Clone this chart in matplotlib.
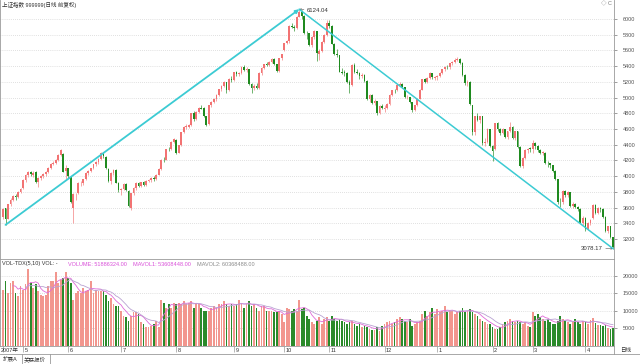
import matplotlib
matplotlib.use("Agg")
import matplotlib.pyplot as plt
import matplotlib.transforms as mtrans
import numpy as np
import pandas as pd

plt.rcParams['font.family'] = ['Liberation Sans', 'Noto Sans CJK SC', 'DejaVu Sans']

# 上证指数 日线 2007-04 ~ 2008-04
opens = [
    3480, 3590, 3460, 3640, 3700, 3750, 3730, 3800,
    3850, 3950, 4010, 4050, 4020, 4050, 3930, 3980, 4000, 4030, 4050, 4110, 4160, 4170, 4200, 4270, 4280, 4060,
    4100, 3990, 3600, 3770, 3780, 3910, 3910, 3960, 4040, 4070, 4100, 4150, 4180, 4220, 4290, 4250, 4090, 3940, 4040, 4080, 3910,
    3820, 3840, 3900, 3810, 3600, 3780, 3850, 3910, 3880, 3920, 3890, 3940, 3950, 3980, 3960, 4020, 4090, 4210, 4210, 4345, 4340, 4440,
    4460, 4300, 4400, 4560, 4628, 4630, 4650, 4800, 4730, 4820, 4870, 4870, 4760, 4660, 4900, 4950, 4980, 5032, 5107, 5150, 5194, 5095, 5241,
    5220, 5321, 5294, 5310, 5393, 5355, 5360, 5170, 5120, 5150, 5121, 5309, 5378, 5425, 5421, 5454, 5497, 5425, 5340, 5500,
    5600, 5692, 5715, 5913, 5900, 5880, 6030, 6092, 6036, 5825, 5818, 5667, 5773, 5843, 5560, 5589, 5706, 5802,
    5954, 5914, 5688, 5558, 5538, 5330, 5319, 5316, 5195, 5158, 5412, 5330, 5317, 5269, 5292, 5214, 4984, 5032, 4935, 4958, 4803, 4897,
    4850, 4869, 4915, 5035, 5092, 5091, 5163, 5174, 5139, 5005, 5007, 4941, 4836, 4900, 4985, 5101, 5234, 5202, 5252, 5308, 5250,
    5262, 5272, 5319, 5361, 5393, 5386, 5435, 5456, 5484, 5497, 5443, 5290, 5180, 5203, 4900, 4560, 4761, 4717, 4761, 4419, 4433, 4599,
    4380, 4340, 4672, 4599, 4552, 4599, 4497, 4574, 4631, 4482, 4570, 4370, 4123, 4235, 4330, 4350,
    4348, 4420, 4390, 4331, 4300, 4300, 4168, 4165, 4139, 4072, 3962, 3670, 3668, 3807, 3754, 3796, 3623, 3646, 3608, 3580, 3410,
    3472, 3329, 3407, 3470, 3628, 3531, 3600, 3580, 3486, 3296, 3360, 3222,
]
highs = [
    3600, 3600, 3650, 3720, 3760, 3770, 3810, 3850,
    3960, 4030, 4060, 4070, 4060, 4060, 3990, 4020, 4040, 4060, 4120, 4170, 4190, 4220, 4280, 4340, 4290, 4140,
    4110, 4000, 3780, 3790, 3920, 3940, 3970, 4050, 4080, 4110, 4160, 4190, 4230, 4312, 4300, 4260, 4100, 4050, 4090, 4090, 3930,
    3850, 3910, 3910, 3820, 3790, 3860, 3920, 3930, 3930, 3940, 3950, 3970, 3990, 4000, 4030, 4100, 4215, 4240, 4350, 4370, 4445, 4480,
    4470, 4400, 4565, 4640, 4660, 4670, 4810, 4830, 4830, 4880, 4900, 4880, 4770, 4910, 4960, 4990, 5040, 5110, 5160, 5210, 5200, 5250, 5280,
    5330, 5340, 5320, 5400, 5410, 5390, 5370, 5180, 5170, 5180, 5320, 5390, 5430, 5450, 5460, 5500, 5500, 5430, 5510, 5560,
    5700, 5730, 5920, 5950, 5930, 6040, 6124.04, 6110, 6050, 5850, 5820, 5790, 5860, 5850, 5620, 5720, 5810, 5990,
    5990, 5920, 5700, 5620, 5540, 5380, 5350, 5320, 5220, 5430, 5440, 5370, 5330, 5310, 5300, 5220, 5050, 5040, 4980, 4960, 4910, 4920,
    4900, 4930, 5040, 5100, 5110, 5170, 5200, 5180, 5140, 5030, 5010, 4950, 4910, 4990, 5110, 5240, 5250, 5260, 5320, 5310, 5275,
    5290, 5330, 5370, 5400, 5410, 5440, 5470, 5500, 5522, 5500, 5450, 5300, 5220, 5210, 4910, 4770, 4800, 4770, 4770, 4480, 4610, 4600,
    4400, 4680, 4690, 4610, 4610, 4600, 4580, 4695, 4640, 4580, 4575, 4380, 4240, 4340, 4360, 4370,
    4460, 4430, 4400, 4340, 4320, 4310, 4190, 4170, 4140, 4080, 3970, 3720, 3820, 3830, 3810, 3800, 3670, 3660, 3620, 3590, 3490,
    3480, 3420, 3460, 3640, 3640, 3610, 3610, 3590, 3490, 3370, 3370, 3230,
]
lows = [
    3460, 3380, 3450, 3620, 3680, 3700, 3720, 3780,
    3840, 3930, 3990, 4000, 3990, 3910, 3860, 3950, 3980, 4000, 4040, 4090, 4140, 4150, 4190, 4260, 4050, 3970,
    3980, 3660, 3404, 3700, 3770, 3880, 3890, 3950, 4020, 4050, 4090, 4130, 4160, 4200, 4230, 4090, 3930, 3900, 4010, 3910, 3800,
    3760, 3820, 3810, 3610, 3563, 3760, 3830, 3860, 3860, 3870, 3880, 3920, 3930, 3940, 3950, 4010, 4080, 4180, 4200, 4320, 4330, 4420,
    4280, 4290, 4390, 4550, 4600, 4610, 4640, 4700, 4720, 4800, 4850, 4750, 4640, 4650, 4880, 4930, 4960, 5020, 5090, 5130, 5060, 5090, 5200,
    5210, 5270, 5270, 5300, 5340, 5320, 5160, 5060, 5100, 5110, 5110, 5290, 5360, 5400, 5400, 5440, 5410, 5330, 5330, 5480,
    5590, 5680, 5700, 5880, 5850, 5870, 6020, 6000, 5810, 5740, 5660, 5640, 5750, 5460, 5480, 5580, 5700, 5790,
    5880, 5680, 5540, 5520, 5320, 5300, 5280, 5180, 5060, 5150, 5310, 5300, 5240, 5250, 5200, 4970, 4950, 4920, 4900, 4778, 4790, 4850,
    4820, 4860, 4900, 5020, 5060, 5080, 5150, 5120, 4990, 4980, 4930, 4820, 4830, 4890, 4980, 5100, 5180, 5190, 5240, 5240, 5220,
    5230, 5260, 5300, 5340, 5360, 5370, 5420, 5440, 5470, 5430, 5280, 5160, 5150, 4900, 4520, 4530, 4700, 4680, 4400, 4380, 4420, 4370,
    4195, 4330, 4580, 4520, 4540, 4480, 4470, 4560, 4470, 4460, 4360, 4120, 4110, 4220, 4300, 4310,
    4300, 4340, 4310, 4280, 4270, 4150, 4120, 4100, 4050, 3950, 3650, 3610, 3650, 3740, 3730, 3610, 3600, 3590, 3560, 3400, 3380,
    3300, 3310, 3380, 3460, 3520, 3520, 3550, 3470, 3290, 3280, 3210, 3078.17,
]
closes = [
    3580, 3450, 3640, 3700, 3750, 3730, 3800, 3840,
    3950, 4010, 4050, 4030, 4040, 3930, 3980, 4000, 4030, 4050, 4110, 4160, 4170, 4200, 4270, 4335, 4055, 4110,
    4000, 3670, 3767, 3776, 3913, 3914, 3960, 4040, 4070, 4100, 4150, 4180, 4220, 4290, 4260, 4100, 3940, 4040, 4080, 3915, 3820,
    3840, 3900, 3820, 3615, 3780, 3853, 3910, 3880, 3920, 3890, 3940, 3950, 3980, 3960, 4020, 4090, 4210, 4205, 4345, 4340, 4440, 4470,
    4300, 4395, 4560, 4628, 4630, 4650, 4800, 4730, 4820, 4870, 4860, 4765, 4656, 4904, 4950, 4980, 5032, 5107, 5150, 5194, 5095, 5241, 5218,
    5321, 5294, 5310, 5393, 5355, 5356, 5171, 5120, 5153, 5121, 5309, 5378, 5425, 5421, 5454, 5497, 5425, 5340, 5500, 5552,
    5692, 5715, 5913, 5900, 5880, 6030, 6092, 6036, 5825, 5818, 5667, 5773, 5843, 5562, 5589, 5706, 5802, 5954,
    5914, 5688, 5558, 5538, 5330, 5319, 5316, 5195, 5158, 5412, 5330, 5317, 5269, 5292, 5214, 4984, 5032, 4935, 4958, 4803, 4897, 4871,
    4869, 4915, 5035, 5092, 5091, 5163, 5174, 5139, 5005, 5007, 4941, 4836, 4900, 4985, 5101, 5234, 5202, 5252, 5308, 5261, 5262,
    5272, 5319, 5361, 5393, 5386, 5435, 5456, 5484, 5497, 5443, 5290, 5180, 5203, 4914, 4559, 4761, 4717, 4761, 4419, 4433, 4599, 4383,
    4320, 4672, 4599, 4552, 4599, 4497, 4574, 4631, 4482, 4570, 4370, 4123, 4235, 4330, 4350, 4348,
    4420, 4390, 4331, 4300, 4310, 4168, 4165, 4139, 4072, 3962, 3670, 3668, 3807, 3754, 3796, 3623, 3646, 3608, 3580, 3410, 3472,
    3329, 3407, 3446, 3628, 3531, 3600, 3580, 3486, 3296, 3360, 3222, 3094,
]
# 成交量（万手）
volumes = [
    16000, 18400, 15100, 17900, 18400, 15100, 14200, 17000, 16000, 17500,
    21900, 17900, 16500, 17500, 15600, 14600, 14200, 14600, 17000, 18400,
    18400, 20900, 17900, 18900, 19300, 20900, 19300, 17900, 13200, 15100,
    15600, 15100, 16500, 15600, 16000, 18400, 15100, 16000, 15600, 15600,
    15600, 14600, 12800, 13700, 11800, 11400, 11400, 10000, 8500, 8100,
    7100, 8500, 9500, 9500, 9000, 6700, 6200, 5300, 5300, 5700,
    6200, 7100, 5300, 13200, 12300, 10900, 11800, 10900, 12300, 11800,
    12300, 11800, 12800, 11800, 12300, 12800, 10900, 12300, 11800, 10900,
    10000, 10000, 10000, 10900, 11400, 10900, 11800, 11800, 12800, 11800,
    11400, 11800, 11400, 11800, 13200, 12300, 10900, 11800, 12800, 11400,
    11800, 10900, 10000, 11400, 11400, 10000, 10000, 10000, 9500, 9500,
    10000, 9000, 6700, 10900, 10400, 10000, 10400, 10000, 13000, 10400,
    10900, 8500, 7600, 6700, 6200, 7100, 8100, 6200,
    7600, 8100, 7100, 8500, 7600, 7100, 7600,
    7100, 6700, 6200, 6700, 7100, 6200, 5700, 6200, 5300, 5700, 5300, 4800, 4500, 4500, 5300, 4300,
    5700, 6200, 6700, 7100, 6200, 6700, 7600, 8100, 7600, 7100, 6700, 7600, 5700, 6200, 6700, 7100,
    9000, 9900, 8500, 9500, 10900, 9000, 10400, 9500, 10000, 11400, 9500, 10000, 9900, 9000, 9500, 10000, 10900, 9500, 10000, 10400,
    9500, 9000, 8500, 7600, 7100, 6700, 6200, 6200, 5300, 4800, 4800, 5300,
    6200, 6700, 7100, 7600, 7100, 6700, 7100, 6700, 6200, 6700, 5700, 5300,
    9500, 8500, 9000, 8100, 7600, 7100, 7600, 6700, 6200, 6200,
    7100, 8500, 7600, 7100, 6700, 6200, 7100, 7600, 6700, 6200, 7100, 6700, 6200,
    7400, 7900, 6400, 6000, 5900, 5600, 5900, 5200, 4900, 5189,
]

month_starts = [0, 8, 26, 47, 69, 92, 112, 130, 152, 173, 195, 211, 232]
month_labels = ['2007年', '5', '6', '7', '8', '9', '10', '11', '12', '1', '2', '3', '4']
price_ticks = list(range(3200, 6001, 200))
vol_ticks = [5000, 10000, 15000, 20000]

UP, DOWN = '#f27373', '#1f8a1f'
UP_V, DOWN_V = '#f2968e', '#2a8a2a'
CYAN = '#3ccbd3'
GRID = '#c4c4c4'
EDGE = '#9a9a9a'
W, H = 640, 364
FS = 4.0


def fx(x):
    return x / W


def fy(y):
    return 1 - y / H


o = np.array(opens, float)
c = np.array(closes, float)
hi = np.maximum(np.array(highs, float), np.maximum(o, c))
lo = np.minimum(np.array(lows, float), np.minimum(o, c))
v = np.array(volumes, float)
n = len(c)
idx = np.arange(n)
up = c >= o
cols = np.where(up, UP, DOWN)

fig = plt.figure(figsize=(6.4, 3.64), dpi=100)
fig.patch.set_facecolor('white')

plot_w = 614 / W
ax = fig.add_axes([0, fy(258.5), plot_w, 258.5 / H])
axv = fig.add_axes([0, fy(345.8), plot_w, (345.8 - 258.5) / H])

for a in (ax, axv):
    a.set_xlim(-1.2, n - 1 + 0.4)
    for s in a.spines.values():
        s.set_color(EDGE)
        s.set_linewidth(0.6)
    a.yaxis.tick_right()
    a.tick_params(axis='y', labelsize=FS, colors='#555555', length=2, width=0.4, pad=4)
ax.spines['top'].set_visible(False)

# 主图 K 线
ax.set_ylim(2952, 6242)
for t in price_ticks:
    ax.axhline(t, color=GRID, lw=0.5, ls=(0, (1, 2)), zorder=0)
ax.vlines(idx, lo, hi, colors=cols, lw=0.45, zorder=2)
body = np.maximum(np.abs(c - o), 6)
ax.bar(idx, body, bottom=np.minimum(o, c), width=0.7, color=cols, lw=0, zorder=3)
ax.set_yticks(price_ticks)
ax.set_yticklabels([str(t) for t in price_ticks])
ax.set_xticks([])

# 趋势线
i_peak = int(np.argmax(hi))
i_low = int(np.argmin(lo))
ax.annotate('', xy=(i_peak, hi[i_peak]), xytext=(1, lo[1]),
            arrowprops=dict(arrowstyle='-|>', color=CYAN, lw=1.3, mutation_scale=5,
                            shrinkA=0, shrinkB=0), zorder=4)
ax.plot([i_peak, i_low], [hi[i_peak], lo[i_low]], color=CYAN, lw=1.1, zorder=4)

ax.annotate(f'{hi[i_peak]:.2f}', xy=(i_peak, hi[i_peak]), xytext=(i_peak + 3, hi[i_peak] - 10),
            fontsize=4.3, color='#333333', va='center', ha='left',
            arrowprops=dict(arrowstyle='->', color='#555555', lw=0.4, shrinkA=0, shrinkB=0,
                            mutation_scale=3))
ax.annotate(f'{lo[i_low]:.2f}', xy=(i_low, lo[i_low]), xytext=(i_low - 4, lo[i_low]),
            fontsize=4.3, color='#333333', va='center', ha='right',
            arrowprops=dict(arrowstyle='->', color='#555555', lw=0.4, shrinkA=0, shrinkB=0,
                            mutation_scale=3))

# 成交量
axv.set_ylim(0, 24890)
for t in vol_ticks:
    axv.axhline(t, color=GRID, lw=0.5, ls=(0, (1, 2)), zorder=0)
axv.bar(idx, v, width=0.7, color=np.where(up, UP_V, DOWN_V), lw=0, zorder=2)
ma5 = pd.Series(v).rolling(5).mean()
ma10 = pd.Series(v).rolling(10).mean()
axv.plot(idx, ma5, color='#e06ad8', lw=0.6, zorder=3)
axv.plot(idx, ma10, color='#b9a2d2', lw=0.6, zorder=3)
axv.set_yticks(vol_ticks)
axv.set_yticklabels([str(t) for t in vol_ticks])
axv.set_xticks(month_starts)
axv.set_xticklabels([])
axv.tick_params(axis='x', length=4.5, width=0.5, colors=EDGE, direction='out')

trans = mtrans.blended_transform_factory(axv.transData, fig.transFigure)
for m, lab in zip(month_starts, month_labels):
    xpos = m + 0.6 if m else -0.8
    fig.text(xpos, fy(350.5), lab, transform=trans, fontsize=FS, color='#333333',
             va='center', ha='left')

# 标题与指标文字
fig.text(fx(2), fy(5), '上证指数 999999(日线 前复权)', fontsize=FS, color='#333333', va='center')
fig.text(fx(601), fy(4), '◇ C', fontsize=FS, color='#777777', va='center')
fig.text(fx(2), fy(264), 'VOL-TDX(5,10) VOL: -', fontsize=FS, color='#333333', va='center')
fig.text(fx(68), fy(264), 'VOLUME: 51886324.00', fontsize=FS, color='#d94fd9', va='center')
fig.text(fx(133), fy(264), 'MAVOL1: 53608448.00', fontsize=FS, color='#d94fd9', va='center')
fig.text(fx(197), fy(264), 'MAVOL2: 60368488.00', fontsize=FS, color='#8a8a8a', va='center')

# 右侧分隔线和底部
fig.add_artist(plt.Line2D([fx(614), fx(614)], [fy(345.8), fy(354)], color=EDGE, lw=0.6))
fig.add_artist(plt.Line2D([0, 1], [fy(354), fy(354)], color=EDGE, lw=0.6))
fig.text(fx(620), fy(350), '日线', fontsize=FS, color='#333333', va='center')
fig.text(fx(3), fy(359), '扩展A', fontsize=FS, color='#333333', va='center')
fig.add_artist(plt.Line2D([fx(22), fx(22)], [fy(354), fy(364)], color=EDGE, lw=0.6))
fig.text(fx(24), fy(359), '关联报价', fontsize=FS, color='#333333', va='center')
fig.add_artist(plt.Line2D([fx(50), fx(50)], [fy(354), fy(364)], color=EDGE, lw=0.6))

fig.savefig('out.png', dpi=100, facecolor='white')
